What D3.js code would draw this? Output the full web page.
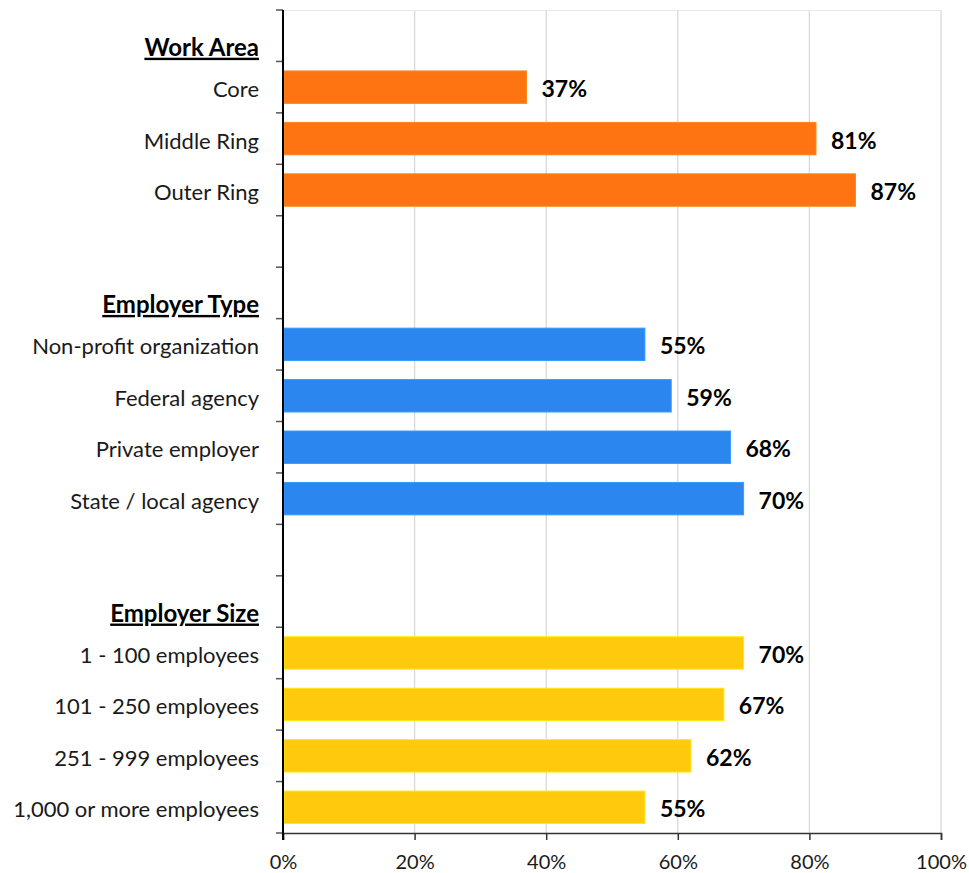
<!DOCTYPE html>
<html>
<head>
<meta charset="utf-8">
<script src="https://cdn.jsdelivr.net/npm/d3@7"></script>
<style>
  body { margin: 0; background: #fff; }
  text { font-family: Lato, "Open Sans", sans-serif; }
</style>
</head>
<body>
<svg width="969" height="873"></svg>
<script>
// **** data ****
var rows = ["Work Area", "Core", "Middle Ring", "Outer Ring", "gap1",
            "Employer Type", "Non-profit organization", "Federal agency", "Private employer", "State / local agency", "gap2",
            "Employer Size", "1 - 100 employees", "101 - 250 employees", "251 - 999 employees", "1,000 or more employees"];
var headers = ["Work Area", "Employer Type", "Employer Size"];

var workArea = [["Core", 37], ["Middle Ring", 81], ["Outer Ring", 87]];
var employerType = [["Non-profit organization", 55], ["Federal agency", 59], ["Private employer", 68], ["State / local agency", 70]];
var employerSize = [["1 - 100 employees", 70], ["101 - 250 employees", 67], ["251 - 999 employees", 62], ["1,000 or more employees", 55]];

var xTicks = [0, 20, 40, 60, 80, 100];

var groups = [
  {rows: workArea, color: "#ff7412"},
  {rows: employerType, color: "#2b87ef"},
  {rows: employerSize, color: "#ffca0b"}
];

// **** scales ****
var svg = d3.select("svg");
var x = d3.scaleLinear().domain([0, 100]).range([283, 941]);
var y = d3.scaleBand().domain(rows).range([10, 833]).paddingInner(0.37).paddingOuter(0.185);

// gridlines
svg.append("g")
  .selectAll("line")
  .data(xTicks.slice(1))
  .enter().append("line")
  .attr("x1", function(d) { return x(d); })
  .attr("x2", function(d) { return x(d); })
  .attr("y1", 10).attr("y2", 833)
  .attr("stroke", "#d9d9d9").attr("stroke-width", 1.3);

svg.append("line")
  .attr("x1", x(0)).attr("x2", x(100))
  .attr("y1", 10.5).attr("y2", 10.5)
  .attr("stroke", "#e8e8e8");

// bars
groups.forEach(function(g) {
  svg.append("g")
    .selectAll("rect")
    .data(g.rows)
    .enter().append("rect")
    .attr("x", x(0) + 1)
    .attr("y", function(d) { return y(d[0]); })
    .attr("width", function(d) { return x(d[1]) - x(0) - 1; })
    .attr("height", y.bandwidth())
    .attr("fill", g.color)
    .attr("stroke", d3.color(g.color).brighter(0.4))
    .attr("stroke-width", 1);

  svg.append("g")
    .selectAll("text")
    .data(g.rows)
    .enter().append("text")
    .attr("x", function(d) { return x(d[1]) + 15; })
    .attr("y", function(d) { return y(d[0]) + y.bandwidth() / 2 + 10; })
    .attr("font-size", 23)
    .attr("font-weight", "bold")
    .attr("fill", "#000")
    .text(function(d) { return d[1] + "%"; });
});

// left axis ticks at band edges
var edges = d3.range(rows.length + 1).map(function(i) { return 10 + i * (823 / rows.length); });
svg.append("g")
  .selectAll("line")
  .data(edges)
  .enter().append("line")
  .attr("x1", 276).attr("x2", 283)
  .attr("y1", function(d) { return d; })
  .attr("y2", function(d) { return d; })
  .attr("stroke", "#555").attr("stroke-width", 1.5);

// category labels
svg.append("g")
  .selectAll("text")
  .data(rows.filter(function(r) { return r.indexOf("gap") != 0; }))
  .enter().append("text")
  .attr("x", 259)
  .attr("y", function(d) {
    var c = y(d) + y.bandwidth() / 2;
    return headers.indexOf(d) >= 0 ? c + 20 : c + 10;
  })
  .attr("text-anchor", "end")
  .attr("font-size", function(d) { return headers.indexOf(d) >= 0 ? 24 : 22; })
  .attr("font-weight", function(d) { return headers.indexOf(d) >= 0 ? "bold" : "normal"; })
  .attr("text-decoration", function(d) { return headers.indexOf(d) >= 0 ? "underline" : null; })
  .attr("fill", function(d) { return headers.indexOf(d) >= 0 ? "#000" : "#1a1a1a"; })
  .text(function(d) { return d; });

// axes
var xAxis = svg.append("g")
  .attr("transform", "translate(0,833)")
  .call(d3.axisBottom(x).tickValues(xTicks).tickSize(7).tickFormat(function(d) { return d + "%"; }));
xAxis.select(".domain").attr("stroke", "#333").attr("stroke-width", 1.5);
xAxis.selectAll(".tick line").attr("stroke", "#333").attr("stroke-width", 1.5);
xAxis.selectAll(".tick text").attr("font-size", 20).attr("font-family", "Lato, sans-serif").attr("fill", "#1a1a1a").attr("dy", "1.3em");

svg.append("line")
  .attr("x1", 283).attr("x2", 283)
  .attr("y1", 10).attr("y2", 840)
  .attr("stroke", "#000").attr("stroke-width", 2);
</script>
</body>
</html>
